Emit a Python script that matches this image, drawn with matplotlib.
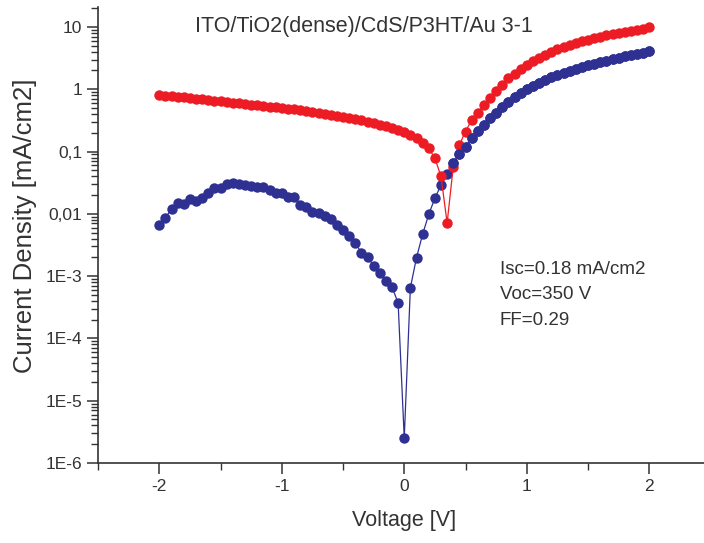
import numpy as np
import matplotlib
matplotlib.use("Agg")
import matplotlib.pyplot as plt

plt.rcParams['font.family'] = ['Liberation Sans', 'DejaVu Sans']
plt.rcParams['axes.unicode_minus'] = False

# voltage sweep, 0.05 V steps
voltage = np.linspace(-2, 2, 81)

# red curve (upper)
red_j = [0.81, 0.79, 0.77, 0.755, 0.74, 0.72, 0.70, 0.69, 0.67, 0.655,
         0.64, 0.62, 0.61, 0.595, 0.58, 0.565, 0.55, 0.54, 0.525, 0.51,
         0.50, 0.49, 0.475, 0.46, 0.445, 0.43, 0.415, 0.40, 0.385, 0.37,
         0.355, 0.345, 0.33, 0.315, 0.30, 0.285, 0.27, 0.255, 0.24, 0.225,
         0.205, 0.185, 0.163, 0.139, 0.113, 0.078, 0.040, 0.0071, 0.057, 0.128,
         0.209, 0.32, 0.42, 0.56, 0.73, 0.92, 1.17, 1.5, 1.78, 2.1,
         2.45, 2.8, 3.2, 3.55, 3.95, 4.35, 4.75, 5.15, 5.55, 5.9,
         6.25, 6.6, 6.95, 7.35, 7.7, 8.05, 8.4, 8.75, 9.05, 9.35,
         9.8]

# blue curve (lower)
blue_j = [0.0066, 0.0086, 0.012, 0.015, 0.0144, 0.0173, 0.0161, 0.018, 0.0217, 0.026,
          0.026, 0.030, 0.031, 0.030, 0.029, 0.028, 0.027, 0.027, 0.024, 0.0219,
          0.0219, 0.0189, 0.0189, 0.0139, 0.0131, 0.0107, 0.0103, 0.0092, 0.0083, 0.0066,
          0.0055, 0.0044, 0.0034, 0.00238, 0.00203, 0.00146, 0.00114, 0.00085, 0.00067, 0.00037,
          2.5e-6, 0.00065, 0.00198, 0.0047, 0.0098, 0.0178, 0.029, 0.0437, 0.065, 0.090,
          0.12, 0.163, 0.214, 0.267, 0.34, 0.42, 0.52, 0.63, 0.75, 0.88,
          1.01, 1.14, 1.28, 1.42, 1.56, 1.70, 1.84, 1.98, 2.12, 2.27,
          2.42, 2.57, 2.72, 2.88, 3.04, 3.2, 3.36, 3.52, 3.7, 3.88,
          4.1]

ytick_vals = [1e-6, 1e-5, 1e-4, 1e-3, 1e-2, 1e-1, 1, 10]
ytick_labels = ["1E-6", "1E-5", "1E-4", "1E-3", "0,01", "0,1", "1", "10"]
xtick_vals = [-2, -1, 0, 1, 2]

text_col = "#333333"

fig = plt.figure(figsize=(7.04, 5.43), dpi=100)
ax = fig.add_axes([98 / 704, 80 / 543, 612.5 / 704, 456 / 543])

ax.plot(voltage, blue_j, '-o', color='#2E3192', lw=0.9, ms=7.5, mec='none')
ax.plot(voltage, red_j, '-o', color='#ED1C24', lw=0.9, ms=7.5, mec='none')
# keep blue on top near the crossing like the original
ax.plot(voltage[48:], blue_j[48:], 'o', color='#2E3192', ms=7.5, mec='none')

ax.set_yscale('log')
ax.set_xlim(-2.5, 2.5)
ax.set_ylim(1e-6, 10 ** 1.32)

ax.set_yticks(ytick_vals)
ax.set_yticklabels(ytick_labels)
ax.set_xticks(xtick_vals)
ax.set_xticks([-2.5, -1.5, -0.5, 0.5, 1.5, 2.5], minor=True)

for s in ['top', 'right']:
    ax.spines[s].set_visible(False)
for s in ['left', 'bottom']:
    ax.spines[s].set_color(text_col)
    ax.spines[s].set_linewidth(1.2)

ax.tick_params(which='major', direction='out', length=8, width=1.1,
               color=text_col, labelcolor=text_col, labelsize=12.5)
ax.tick_params(which='minor', direction='out', length=5, width=1.0, color=text_col)

ax.set_xlabel("Voltage [V]", fontsize=15.5, color=text_col)
ax.set_ylabel("Current Density [mA/cm2]", fontsize=18.5, color=text_col)
ax.xaxis.set_label_coords(0.5, -0.102)
ax.yaxis.set_label_coords(-0.099, 0.52)

ax.text(-0.33, 10, "ITO/TiO2(dense)/CdS/P3HT/Au 3-1", fontsize=15.5,
        color=text_col, ha='center', va='center')
ax.text(0.78, 5e-4, "Isc=0.18 mA/cm2\nVoc=350 V\nFF=0.29", fontsize=13.5,
        color=text_col, ha='left', va='center', linespacing=1.67)

plt.savefig("out.png", dpi=100)
